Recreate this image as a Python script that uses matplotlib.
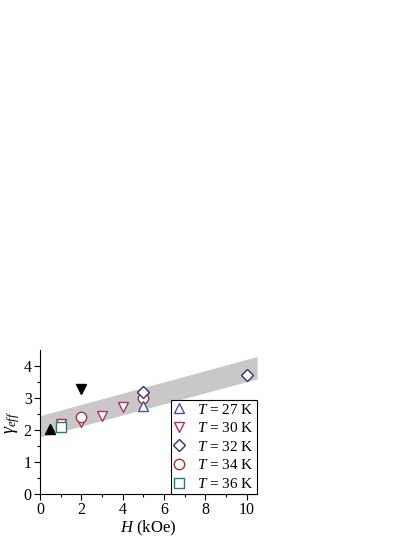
import matplotlib
matplotlib.use("Agg")
import matplotlib.pyplot as plt
import numpy as np

plt.rcParams['font.family'] = ['Liberation Serif', 'DejaVu Serif']
plt.rcParams['mathtext.fontset'] = 'custom'
plt.rcParams['mathtext.rm'] = 'Liberation Serif'
plt.rcParams['mathtext.it'] = 'Liberation Serif:italic'

# data
band_x = [0, 10.5]
band_lo = [1.78, 3.60]
band_hi = [2.45, 4.30]

h27 = [5]; g27 = [2.75]
h30 = [1, 2, 3, 4]; g30 = [2.20, 2.25, 2.45, 2.72]
h32 = [5, 10]; g32 = [3.20, 3.72]
h34 = [2, 5]; g34 = [2.40, 3.00]
h36 = [1]; g36 = [2.10]
h_up = [0.5]; g_up = [2.02]
h_dn = [2]; g_dn = [3.28]

labels = ['$T$ = 27 K', '$T$ = 30 K', '$T$ = 32 K', '$T$ = 34 K', '$T$ = 36 K']
xticks = [0, 2, 4, 6, 8, 10]
yticks = [0, 1, 2, 3, 4]

fig = plt.figure(figsize=(4.15, 5.37), dpi=100)
ax = fig.add_axes([0.0964, 0.080, 0.523, 0.268])

ax.fill_between(band_x, band_lo, band_hi, color='#c8c8c8', lw=0, zorder=1)

ms = 7.5
kw = dict(ls='none', mfc='white', mew=1.0, ms=ms, zorder=3)
ax.plot(h30, g30, 'v', mec='#b0306e', label=labels[1], **kw)
ax.plot(h36, g36, 's', mec='#20806a', label=labels[4], **dict(kw, ms=7))
ax.plot(h34, g34, 'o', mec='#b03030', label=labels[3], **kw)
ax.plot(h32, g32, 'D', mec='#303080', label=labels[2], **dict(kw, ms=6.5))
ax.plot(h27, g27, '^', mec='#4848b8', label=labels[0], **kw)
ax.plot(h_up, g_up, '^', color='black', ms=ms, ls='none', zorder=4)
ax.plot(h_dn, g_dn, 'v', color='black', ms=ms, ls='none', zorder=4)

handles, labs = ax.get_legend_handles_labels()
order = [labs.index(l) for l in labels]
leg = ax.legend([handles[i] for i in order], [labs[i] for i in order],
                loc='lower right', fontsize=11, frameon=True, fancybox=False,
                edgecolor='black', framealpha=1, borderpad=0.2,
                handletextpad=0.9, labelspacing=0.3, handlelength=0.6,
                borderaxespad=0)
leg.get_frame().set_linewidth(0.8)
leg.set_zorder(5)

ax.set_xlim(0, 10.5)
ax.set_ylim(0, 4.5)
ax.set_xticks(xticks)
ax.set_yticks(yticks)
ax.set_xticks(np.arange(1, 11, 2), minor=True)
ax.set_yticks(np.arange(0.5, 4.5, 1), minor=True)
ax.tick_params(which='both', direction='out', labelsize=11.5, pad=2)
ax.tick_params(which='major', length=4, width=0.8)
ax.tick_params(which='minor', length=2.5, width=0.8)
for s in ['top', 'right']:
    ax.spines[s].set_visible(False)
for s in ['left', 'bottom']:
    ax.spines[s].set_linewidth(0.8)

ax.set_xlabel('$H$ (kOe)', fontsize=12, labelpad=0)
ax.set_ylabel(r'$\gamma_{eff}$', fontsize=13, labelpad=1)

fig.savefig('out.png', dpi=100)
